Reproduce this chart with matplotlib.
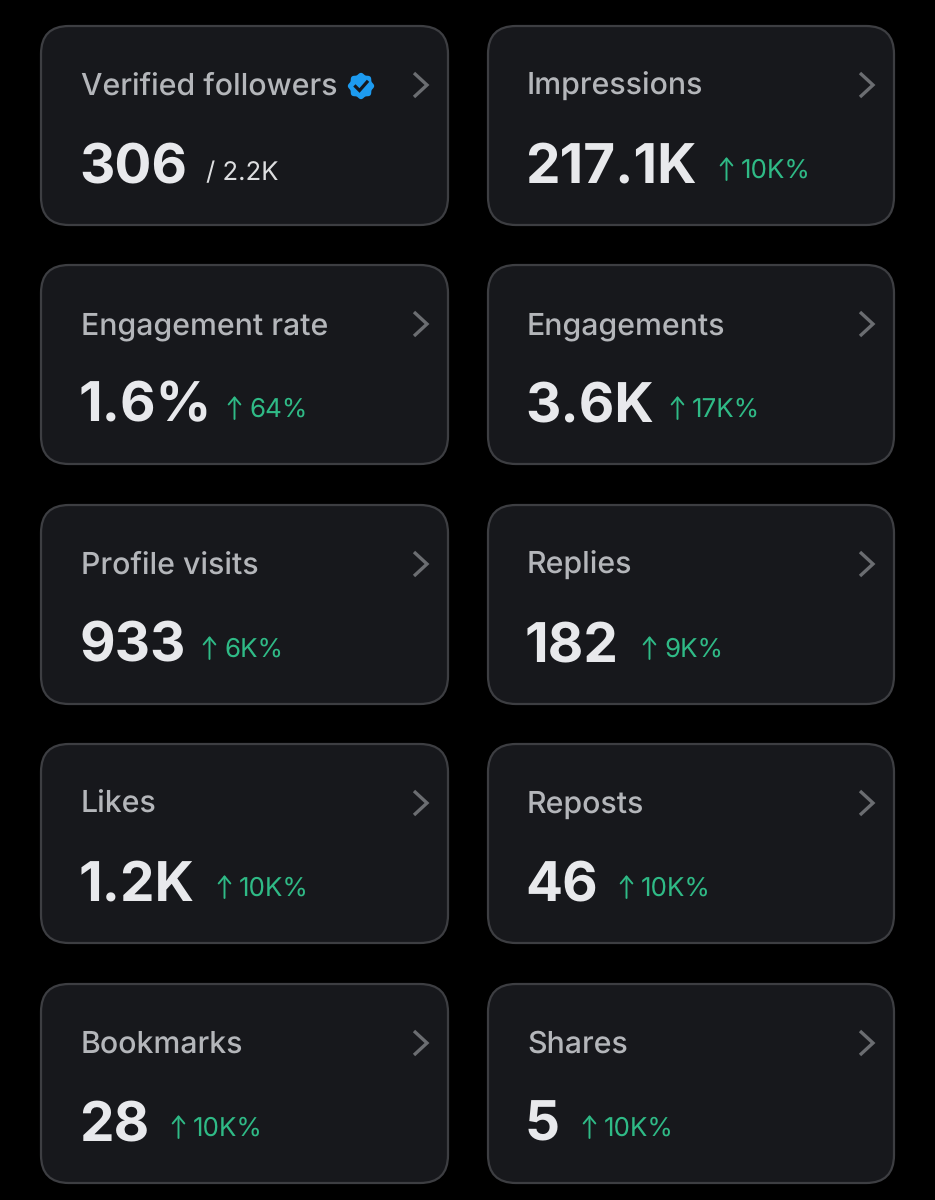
import numpy as np
import matplotlib
matplotlib.use("Agg")
import matplotlib.pyplot as plt
from matplotlib.patches import FancyBboxPatch, Polygon

plt.rcParams['font.family'] = ['Inter', 'DejaVu Sans']
plt.rcParams['text.hinting'] = 'none'
plt.rcParams['text.hinting_factor'] = 1

titles = ["Verified followers", "Impressions", "Engagement rate", "Engagements",
          "Profile visits", "Replies", "Likes", "Reposts", "Bookmarks", "Shares"]
values = ["306", "217.1K", "1.6%", "3.6K", "933", "182", "1.2K", "46", "28", "5"]
deltas = ["/ 2.2K", "10K%", "64%", "17K%", "6K%", "9K%", "10K%", "10K%", "10K%", "10K%"]
delta_x = [206, 741, 249, 692, 224, 664, 239, 641, 193, 604]

BG = "#000000"; CARD = "#17181c"; EDGE = "#3d3e42"
TITLE = "#b4b6ba"; VALUE = "#e8e9ec"; GREEN = "#2fba86"; SUB = "#dddee0"; CHEV = "#6b6d71"

col_x = [41, 488]
col_w = [407, 406]
row_y = [26, 265, 505, 744, 984]
card_h = 199

fig = plt.figure(figsize=(9.35, 12), dpi=100, facecolor=BG)
ax = fig.add_axes([0, 0, 1, 1])
ax.set_xlim(0, 935); ax.set_ylim(1200, 0); ax.axis("off")

for i, (t, v, d, dx) in enumerate(zip(titles, values, deltas, delta_x)):
    c = i % 2; r = i // 2
    x0, y0, w = col_x[c], row_y[r], col_w[c]
    rad = 28
    ax.add_patch(FancyBboxPatch((x0 + rad, y0 + rad), w - 2 * rad, card_h - 2 * rad,
                                boxstyle=f"round,pad={rad},rounding_size={rad}",
                                fc=CARD, ec=EDGE, lw=1.6))
    tx = x0 + 40 - c
    ax.text(tx, y0 + 69, t, color=TITLE, fontsize=21.8, fontweight="medium", va="baseline")
    ax.text(tx - 2, y0 + 156.5, v, color=VALUE, fontsize=39.5, fontweight="bold", va="baseline")
    if i == 0:
        ax.text(dx, y0 + 154, d, color=SUB, fontsize=18.5, va="baseline")
    else:
        ax.text(dx, y0 + 152, d, color=GREEN, fontsize=18.7, va="baseline")
        ax.annotate("", xy=(dx - 14.5, y0 + 131), xytext=(dx - 14.5, y0 + 154),
                    arrowprops=dict(arrowstyle="->,head_length=0.5,head_width=0.42",
                                    color=GREEN, lw=1.4, shrinkA=0, shrinkB=0))
    # chevron
    cx = x0 + w - 28
    cy = y0 + 59
    ax.plot([cx - 6, cx + 7, cx - 6], [cy - 12, cy, cy + 12], color=CHEV, lw=2.4,
            solid_joinstyle="miter", solid_capstyle="butt")

# verified badge
bx, by = 361, 86
th = np.linspace(0, 2 * np.pi, 200)
rr = 12.3 * (1 + 0.07 * np.cos(8 * th))
ax.add_patch(Polygon(np.c_[bx + rr * np.cos(th), by + rr * np.sin(th)], fc="#1d9bf0", ec="none"))
ax.plot([bx - 5.5, bx - 1.5, bx + 6], [by + 0.5, by + 4.5, by - 4], color="#17181c", lw=2.3,
        solid_joinstyle="miter")

fig.savefig("out.png", dpi=100, facecolor=BG)
